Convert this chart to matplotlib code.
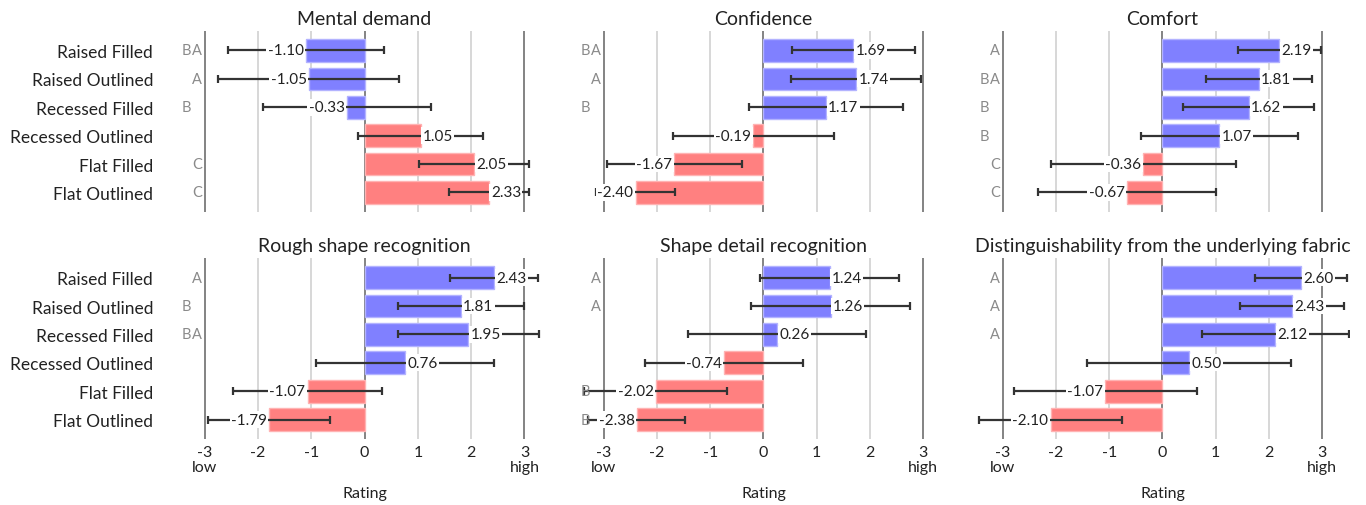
import numpy as np
import matplotlib
matplotlib.use("Agg")
import matplotlib.pyplot as plt

plt.rcParams['font.family'] = ['Lato', 'DejaVu Sans']

conditions = ["Raised Filled", "Raised Outlined", "Recessed Filled",
              "Recessed Outlined", "Flat Filled", "Flat Outlined"]

titles = ["Mental demand", "Confidence", "Comfort",
          "Rough shape recognition", "Shape detail recognition",
          "Distinguishability from the underlying fabric"]

# lower is better for mental demand
lower_better = [True, False, False, False, False, False]

mental_mean = [-1.10, -1.05, -0.33, 1.05, 2.05, 2.33]
mental_err = [1.46, 1.70, 1.58, 1.18, 1.03, 0.75]
mental_groups = ["BA", "A", "B", "", "C", "C"]

confidence_mean = [1.69, 1.74, 1.17, -0.19, -1.67, -2.40]
confidence_err = [1.16, 1.22, 1.44, 1.51, 1.27, 0.74]
confidence_groups = ["BA", "A", "B", "", "", ""]

comfort_mean = [2.19, 1.81, 1.62, 1.07, -0.36, -0.67]
comfort_err = [0.78, 1.00, 1.23, 1.47, 1.74, 1.67]
comfort_groups = ["A", "BA", "B", "B", "C", "C"]

rough_mean = [2.43, 1.81, 1.95, 0.76, -1.07, -1.79]
rough_err = [0.83, 1.18, 1.33, 1.67, 1.40, 1.14]
rough_groups = ["A", "B", "BA", "", "", ""]

detail_mean = [1.24, 1.26, 0.26, -0.74, -2.02, -2.38]
detail_err = [1.30, 1.50, 1.67, 1.49, 1.34, 0.91]
detail_groups = ["A", "A", "", "", "B", "B"]

disting_mean = [2.60, 2.43, 2.12, 0.50, -1.07, -2.10]
disting_err = [0.86, 0.97, 1.38, 1.91, 1.72, 1.34]
disting_groups = ["A", "A", "A", "", "", ""]

means = [mental_mean, confidence_mean, comfort_mean, rough_mean, detail_mean, disting_mean]
errs = [mental_err, confidence_err, comfort_err, rough_err, detail_err, disting_err]
groups = [mental_groups, confidence_groups, comfort_groups, rough_groups, detail_groups, disting_groups]

xticks = [-3, -2, -1, 0, 1, 2, 3]
xticklabels = ["-3\nlow", "-2", "-1", "0", "1", "2", "3\nhigh"]

good_color = "#8080ff"
good_edge = "#b3b3ff"
bad_color = "#ff8080"
bad_edge = "#ffb3b3"

# column of each letter in the compact letter display
letter_col = {"B": 0, "A": 1, "C": 1}

fig = plt.figure(figsize=(13.66, 5.06), dpi=100)

lefts = [0.1304, 0.4224, 0.7145]
bottoms = [0.579, 0.130]
w, h = 0.273, 0.358

y = np.arange(len(conditions))

for i in range(6):
    r, c = divmod(i, 3)
    ax = fig.add_axes([lefts[c], bottoms[r], w, h])
    m = np.array(means[i])
    e = np.array(errs[i])
    good = (m < 0) if lower_better[i] else (m > 0)
    colors = [good_color if g else bad_color for g in good]
    edges = [good_edge if g else bad_edge for g in good]

    for xv in xticks:
        if xv in (-3, 0, 3):
            ax.axvline(xv, color="#7a7a7a", lw=1.3, zorder=1)
        else:
            ax.axvline(xv, color="#d4d4d4", lw=1.3, zorder=0)

    ax.barh(y, m, height=0.8, color=colors, edgecolor=edges, linewidth=1, zorder=2)
    ax.errorbar(m, y, xerr=e, fmt="none", ecolor="#333333", elinewidth=1.6,
                capsize=3, capthick=1.6, zorder=3)

    for yi, v in zip(y, m):
        txt = "%.2f" % v
        if v >= 0:
            ax.text(v + 0.04, yi, txt, ha="left", va="center", fontsize=11,
                    color="#222222", zorder=4,
                    bbox=dict(facecolor="white", edgecolor="none", pad=1))
        else:
            ax.text(v - 0.04, yi, txt, ha="right", va="center", fontsize=11,
                    color="#222222", zorder=4,
                    bbox=dict(facecolor="white", edgecolor="none", pad=1))

    for yi, g in zip(y, groups[i]):
        for ch in g:
            xpos = -3.05 - (1 - letter_col[ch]) * 0.2
            ax.text(xpos, yi, ch, ha="right", va="center", fontsize=10.5,
                    color="#8a8a8a", zorder=4)

    ax.set_xlim(-3.5, 3.5)
    ax.set_yticks(y)
    if c == 0:
        ax.set_yticklabels(conditions, fontsize=12.5, color="#222222")
    else:
        ax.set_yticklabels([])
    ax.invert_yaxis()
    ax.set_xticks(xticks)
    if r == 1:
        ax.set_xticklabels(xticklabels, fontsize=11.5, color="#222222", linespacing=1.15)
        ax.set_xlabel("Rating", fontsize=11.5, color="#222222", labelpad=8)
    else:
        ax.set_xticklabels([])
    ax.tick_params(length=0, pad=4)
    ax.tick_params(axis="y", pad=18 if c == 0 else 0)
    for s in ax.spines.values():
        s.set_visible(False)
    ax.set_title(titles[i], fontsize=14, color="#222222", pad=5)

fig.savefig("out.png", dpi=100)
